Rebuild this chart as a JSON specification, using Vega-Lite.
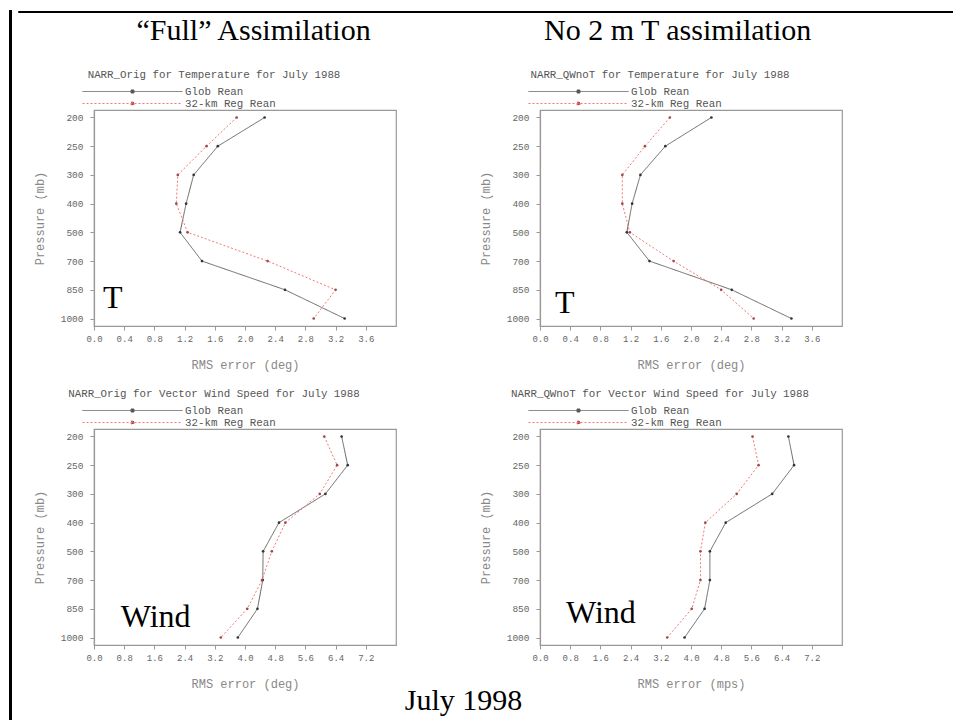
{
  "$schema": "https://vega.github.io/schema/vega-lite/v6.json",
  "padding": {"left": 6, "top": 8, "right": 0, "bottom": 0},
  "background": "white",
  "datasets": {
    "rows": [
      {"panel": "TF", "series": "Glob Rean", "p": "200", "v": 2.26},
      {"panel": "TF", "series": "Glob Rean", "p": "250", "v": 1.64},
      {"panel": "TF", "series": "Glob Rean", "p": "300", "v": 1.32},
      {"panel": "TF", "series": "Glob Rean", "p": "400", "v": 1.22},
      {"panel": "TF", "series": "Glob Rean", "p": "500", "v": 1.14},
      {"panel": "TF", "series": "Glob Rean", "p": "700", "v": 1.43},
      {"panel": "TF", "series": "Glob Rean", "p": "850", "v": 2.53},
      {"panel": "TF", "series": "Glob Rean", "p": "1000", "v": 3.32},
      {"panel": "TF", "series": "32-km Reg Rean", "p": "200", "v": 1.89},
      {"panel": "TF", "series": "32-km Reg Rean", "p": "250", "v": 1.49},
      {"panel": "TF", "series": "32-km Reg Rean", "p": "300", "v": 1.11},
      {"panel": "TF", "series": "32-km Reg Rean", "p": "400", "v": 1.09},
      {"panel": "TF", "series": "32-km Reg Rean", "p": "500", "v": 1.24},
      {"panel": "TF", "series": "32-km Reg Rean", "p": "700", "v": 2.30},
      {"panel": "TF", "series": "32-km Reg Rean", "p": "850", "v": 3.20},
      {"panel": "TF", "series": "32-km Reg Rean", "p": "1000", "v": 2.91},
      {"panel": "TN", "series": "Glob Rean", "p": "200", "v": 2.27},
      {"panel": "TN", "series": "Glob Rean", "p": "250", "v": 1.66},
      {"panel": "TN", "series": "Glob Rean", "p": "300", "v": 1.33},
      {"panel": "TN", "series": "Glob Rean", "p": "400", "v": 1.22},
      {"panel": "TN", "series": "Glob Rean", "p": "500", "v": 1.15},
      {"panel": "TN", "series": "Glob Rean", "p": "700", "v": 1.45},
      {"panel": "TN", "series": "Glob Rean", "p": "850", "v": 2.54},
      {"panel": "TN", "series": "Glob Rean", "p": "1000", "v": 3.33},
      {"panel": "TN", "series": "32-km Reg Rean", "p": "200", "v": 1.72},
      {"panel": "TN", "series": "32-km Reg Rean", "p": "250", "v": 1.39},
      {"panel": "TN", "series": "32-km Reg Rean", "p": "300", "v": 1.09},
      {"panel": "TN", "series": "32-km Reg Rean", "p": "400", "v": 1.09},
      {"panel": "TN", "series": "32-km Reg Rean", "p": "500", "v": 1.19},
      {"panel": "TN", "series": "32-km Reg Rean", "p": "700", "v": 1.77},
      {"panel": "TN", "series": "32-km Reg Rean", "p": "850", "v": 2.40},
      {"panel": "TN", "series": "32-km Reg Rean", "p": "1000", "v": 2.83},
      {"panel": "WF", "series": "Glob Rean", "p": "200", "v": 6.56},
      {"panel": "WF", "series": "Glob Rean", "p": "250", "v": 6.72},
      {"panel": "WF", "series": "Glob Rean", "p": "300", "v": 6.13},
      {"panel": "WF", "series": "Glob Rean", "p": "400", "v": 4.90},
      {"panel": "WF", "series": "Glob Rean", "p": "500", "v": 4.48},
      {"panel": "WF", "series": "Glob Rean", "p": "700", "v": 4.47},
      {"panel": "WF", "series": "Glob Rean", "p": "850", "v": 4.33},
      {"panel": "WF", "series": "Glob Rean", "p": "1000", "v": 3.81},
      {"panel": "WF", "series": "32-km Reg Rean", "p": "200", "v": 6.10},
      {"panel": "WF", "series": "32-km Reg Rean", "p": "250", "v": 6.44},
      {"panel": "WF", "series": "32-km Reg Rean", "p": "300", "v": 5.98},
      {"panel": "WF", "series": "32-km Reg Rean", "p": "400", "v": 5.07},
      {"panel": "WF", "series": "32-km Reg Rean", "p": "500", "v": 4.71},
      {"panel": "WF", "series": "32-km Reg Rean", "p": "700", "v": 4.45},
      {"panel": "WF", "series": "32-km Reg Rean", "p": "850", "v": 4.06},
      {"panel": "WF", "series": "32-km Reg Rean", "p": "1000", "v": 3.36},
      {"panel": "WN", "series": "Glob Rean", "p": "200", "v": 6.58},
      {"panel": "WN", "series": "Glob Rean", "p": "250", "v": 6.73},
      {"panel": "WN", "series": "Glob Rean", "p": "300", "v": 6.15},
      {"panel": "WN", "series": "Glob Rean", "p": "400", "v": 4.92},
      {"panel": "WN", "series": "Glob Rean", "p": "500", "v": 4.50},
      {"panel": "WN", "series": "Glob Rean", "p": "700", "v": 4.50},
      {"panel": "WN", "series": "Glob Rean", "p": "850", "v": 4.36},
      {"panel": "WN", "series": "Glob Rean", "p": "1000", "v": 3.83},
      {"panel": "WN", "series": "32-km Reg Rean", "p": "200", "v": 5.63},
      {"panel": "WN", "series": "32-km Reg Rean", "p": "250", "v": 5.79},
      {"panel": "WN", "series": "32-km Reg Rean", "p": "300", "v": 5.21},
      {"panel": "WN", "series": "32-km Reg Rean", "p": "400", "v": 4.38},
      {"panel": "WN", "series": "32-km Reg Rean", "p": "500", "v": 4.25},
      {"panel": "WN", "series": "32-km Reg Rean", "p": "700", "v": 4.25},
      {"panel": "WN", "series": "32-km Reg Rean", "p": "850", "v": 4.02},
      {"panel": "WN", "series": "32-km Reg Rean", "p": "1000", "v": 3.37}
    ]
  },
  "spacing": 0,
  "resolve": {"scale": {"x": "independent", "y": "independent", "color": "independent", "fill": "independent", "strokeDash": "independent"}, "legend": {"color": "independent", "strokeDash": "independent", "fill": "independent"}},
  "hconcat": [
    {"width": 1, "height": 716, "view": {"stroke": "black", "strokeWidth": 2}, "data": {"values": [{}]}, "mark": {"type": "point", "opacity": 0}, "encoding": {}},
    {
      "spacing": 0,
      "resolve": {"scale": {"x": "independent", "y": "independent", "color": "independent", "fill": "independent", "strokeDash": "independent"}, "legend": {"color": "independent", "strokeDash": "independent", "fill": "independent"}},
      "vconcat": [
        {"width": 950, "height": 1, "view": {"stroke": "black", "strokeWidth": 1}, "data": {"values": [{}]}, "mark": {"type": "point", "opacity": 0}, "encoding": {}},
        {
          "spacing": 10,
          "resolve": {"scale": {"x": "independent", "y": "independent", "color": "independent", "fill": "independent", "strokeDash": "independent"}, "legend": {"color": "independent", "strokeDash": "independent", "fill": "independent"}},
          "hconcat": [
            {"width": 1, "height": 1, "view": {"stroke": null}, "data": {"values": [{}]}, "mark": {"type": "point", "opacity": 0}, "encoding": {}},
            {
              "title": {"text": "July 1998", "orient": "bottom", "font": "Liberation Serif", "fontSize": 30, "fontWeight": "normal", "color": "black", "anchor": "middle", "dx": 26, "offset": -4},
              "spacing": 81,
              "resolve": {"scale": {"x": "independent", "y": "independent", "color": "independent", "fill": "independent", "strokeDash": "independent"}, "legend": {"color": "independent", "strokeDash": "independent", "fill": "independent"}},
              "hconcat": [
                {
                  "title": {"text": "“Full” Assimilation", "font": "Liberation Serif", "fontSize": 30, "fontWeight": "normal", "color": "black", "anchor": "middle", "dx": 39, "dy": -2, "offset": 21},
                  "spacing": 16,
                  "resolve": {"scale": {"x": "independent", "y": "independent", "color": "independent", "fill": "independent", "strokeDash": "independent"}, "legend": {"color": "independent", "strokeDash": "independent", "fill": "independent"}},
                  "vconcat": [
                    {
                      "width": 302, "height": 216,
                      "title": {"text": "NARR_Orig for Temperature for July 1988", "frame": "group", "anchor": "middle", "dx": -31, "offset": 6, "font": "Liberation Mono", "fontSize": 10.8, "fontWeight": "normal", "color": "#555"},
                      "data": {"name": "rows"},
                      "transform": [{"filter": "datum.panel === 'TF'"}],
                      "layer": [
                        {"mark": {"type": "line", "strokeWidth": 1},
                         "encoding": {
                           "x": {"field": "v", "type": "quantitative", "scale": {"domain": [0, 4], "nice": false, "zero": false}, "axis": {"title": "RMS error (deg)", "values": [0, 0.4, 0.8, 1.2, 1.6, 2.0, 2.4, 2.8, 3.2, 3.6], "tickCount": 12, "format": ".1f", "labelOverlap": false}},
                           "y": {"field": "p", "type": "ordinal", "scale": {"type": "point", "padding": 0.26, "domain": ["200", "250", "300", "400", "500", "700", "850", "1000"]}, "axis": {"title": "Pressure (mb)"}},
                           "color": {"field": "series", "type": "nominal", "scale": {"domain": ["Glob Rean", "32-km Reg Rean"], "range": ["#666666", "#f07878"]}, "legend": {"orient": "none", "legendX": -12, "legendY": -24, "direction": "vertical", "title": null}},
                           "strokeDash": {"field": "series", "type": "nominal", "scale": {"domain": ["Glob Rean", "32-km Reg Rean"], "range": [[1, 0], [2, 2]]}, "legend": {"orient": "none", "legendX": -12, "legendY": -24, "direction": "vertical", "title": null}},
                           "order": {"value": null}
                         }},
                        {"mark": {"type": "point", "filled": true, "size": 7, "opacity": 1},
                         "encoding": {
                           "x": {"field": "v", "type": "quantitative"},
                           "y": {"field": "p", "type": "ordinal"},
                           "fill": {"field": "series", "type": "nominal", "scale": {"domain": ["Glob Rean", "32-km Reg Rean"], "range": ["#333333", "#a04848"]}, "legend": null}
                         }},
                        {"data": {"values": [{"t": "T"}]},
                         "mark": {"type": "text", "font": "Liberation Serif", "fontSize": 32, "align": "left", "baseline": "alphabetic", "dy": -11, "color": "black"},
                         "encoding": {"x": {"datum": 0.12}, "y": {"datum": "1000"}, "text": {"field": "t"}}}
                      ]
                    },
                    {
                      "width": 302, "height": 216,
                      "title": {"text": "NARR_Orig for Vector Wind Speed for July 1988", "frame": "group", "anchor": "middle", "dx": -31, "offset": 6, "font": "Liberation Mono", "fontSize": 10.8, "fontWeight": "normal", "color": "#555"},
                      "data": {"name": "rows"},
                      "transform": [{"filter": "datum.panel === 'WF'"}],
                      "layer": [
                        {"mark": {"type": "line", "strokeWidth": 1},
                         "encoding": {
                           "x": {"field": "v", "type": "quantitative", "scale": {"domain": [0, 8], "nice": false, "zero": false}, "axis": {"title": "RMS error (deg)", "values": [0, 0.8, 1.6, 2.4, 3.2, 4.0, 4.8, 5.6, 6.4, 7.2], "tickCount": 12, "format": ".1f", "labelOverlap": false}},
                           "y": {"field": "p", "type": "ordinal", "scale": {"type": "point", "padding": 0.26, "domain": ["200", "250", "300", "400", "500", "700", "850", "1000"]}, "axis": {"title": "Pressure (mb)"}},
                           "color": {"field": "series", "type": "nominal", "scale": {"domain": ["Glob Rean", "32-km Reg Rean"], "range": ["#666666", "#f07878"]}, "legend": {"orient": "none", "legendX": -12, "legendY": -24, "direction": "vertical", "title": null}},
                           "strokeDash": {"field": "series", "type": "nominal", "scale": {"domain": ["Glob Rean", "32-km Reg Rean"], "range": [[1, 0], [2, 2]]}, "legend": {"orient": "none", "legendX": -12, "legendY": -24, "direction": "vertical", "title": null}},
                           "order": {"value": null}
                         }},
                        {"mark": {"type": "point", "filled": true, "size": 7, "opacity": 1},
                         "encoding": {
                           "x": {"field": "v", "type": "quantitative"},
                           "y": {"field": "p", "type": "ordinal"},
                           "fill": {"field": "series", "type": "nominal", "scale": {"domain": ["Glob Rean", "32-km Reg Rean"], "range": ["#333333", "#a04848"]}, "legend": null}
                         }},
                        {"data": {"values": [{"t": "Wind"}]},
                         "mark": {"type": "text", "font": "Liberation Serif", "fontSize": 32, "align": "left", "baseline": "alphabetic", "dy": -11, "color": "black"},
                         "encoding": {"x": {"datum": 0.71}, "y": {"datum": "1000"}, "text": {"field": "t"}}}
                      ]
                    }
                  ]
                },
                {
                  "title": {"text": "No 2 m T assimilation", "font": "Liberation Serif", "fontSize": 30, "fontWeight": "normal", "color": "black", "anchor": "middle", "dx": 17, "dy": -2, "offset": 21},
                  "spacing": 16,
                  "resolve": {"scale": {"x": "independent", "y": "independent", "color": "independent", "fill": "independent", "strokeDash": "independent"}, "legend": {"color": "independent", "strokeDash": "independent", "fill": "independent"}},
                  "vconcat": [
                    {
                      "width": 302, "height": 216,
                      "title": {"text": "NARR_QWnoT for Temperature for July 1988", "frame": "group", "anchor": "middle", "dx": -31, "offset": 6, "font": "Liberation Mono", "fontSize": 10.8, "fontWeight": "normal", "color": "#555"},
                      "data": {"name": "rows"},
                      "transform": [{"filter": "datum.panel === 'TN'"}],
                      "layer": [
                        {"mark": {"type": "line", "strokeWidth": 1},
                         "encoding": {
                           "x": {"field": "v", "type": "quantitative", "scale": {"domain": [0, 4], "nice": false, "zero": false}, "axis": {"title": "RMS error (deg)", "values": [0, 0.4, 0.8, 1.2, 1.6, 2.0, 2.4, 2.8, 3.2, 3.6], "tickCount": 12, "format": ".1f", "labelOverlap": false}},
                           "y": {"field": "p", "type": "ordinal", "scale": {"type": "point", "padding": 0.26, "domain": ["200", "250", "300", "400", "500", "700", "850", "1000"]}, "axis": {"title": "Pressure (mb)"}},
                           "color": {"field": "series", "type": "nominal", "scale": {"domain": ["Glob Rean", "32-km Reg Rean"], "range": ["#666666", "#f07878"]}, "legend": {"orient": "none", "legendX": -12, "legendY": -24, "direction": "vertical", "title": null}},
                           "strokeDash": {"field": "series", "type": "nominal", "scale": {"domain": ["Glob Rean", "32-km Reg Rean"], "range": [[1, 0], [2, 2]]}, "legend": {"orient": "none", "legendX": -12, "legendY": -24, "direction": "vertical", "title": null}},
                           "order": {"value": null}
                         }},
                        {"mark": {"type": "point", "filled": true, "size": 7, "opacity": 1},
                         "encoding": {
                           "x": {"field": "v", "type": "quantitative"},
                           "y": {"field": "p", "type": "ordinal"},
                           "fill": {"field": "series", "type": "nominal", "scale": {"domain": ["Glob Rean", "32-km Reg Rean"], "range": ["#333333", "#a04848"]}, "legend": null}
                         }},
                        {"data": {"values": [{"t": "T"}]},
                         "mark": {"type": "text", "font": "Liberation Serif", "fontSize": 32, "align": "left", "baseline": "alphabetic", "dy": -6, "color": "black"},
                         "encoding": {"x": {"datum": 0.2}, "y": {"datum": "1000"}, "text": {"field": "t"}}}
                      ]
                    },
                    {
                      "width": 302, "height": 216,
                      "title": {"text": "NARR_QWnoT for Vector Wind Speed for July 1988", "frame": "group", "anchor": "middle", "dx": -31, "offset": 6, "font": "Liberation Mono", "fontSize": 10.8, "fontWeight": "normal", "color": "#555"},
                      "data": {"name": "rows"},
                      "transform": [{"filter": "datum.panel === 'WN'"}],
                      "layer": [
                        {"mark": {"type": "line", "strokeWidth": 1},
                         "encoding": {
                           "x": {"field": "v", "type": "quantitative", "scale": {"domain": [0, 8], "nice": false, "zero": false}, "axis": {"title": "RMS error (mps)", "values": [0, 0.8, 1.6, 2.4, 3.2, 4.0, 4.8, 5.6, 6.4, 7.2], "tickCount": 12, "format": ".1f", "labelOverlap": false}},
                           "y": {"field": "p", "type": "ordinal", "scale": {"type": "point", "padding": 0.26, "domain": ["200", "250", "300", "400", "500", "700", "850", "1000"]}, "axis": {"title": "Pressure (mb)"}},
                           "color": {"field": "series", "type": "nominal", "scale": {"domain": ["Glob Rean", "32-km Reg Rean"], "range": ["#666666", "#f07878"]}, "legend": {"orient": "none", "legendX": -12, "legendY": -24, "direction": "vertical", "title": null}},
                           "strokeDash": {"field": "series", "type": "nominal", "scale": {"domain": ["Glob Rean", "32-km Reg Rean"], "range": [[1, 0], [2, 2]]}, "legend": {"orient": "none", "legendX": -12, "legendY": -24, "direction": "vertical", "title": null}},
                           "order": {"value": null}
                         }},
                        {"mark": {"type": "point", "filled": true, "size": 7, "opacity": 1},
                         "encoding": {
                           "x": {"field": "v", "type": "quantitative"},
                           "y": {"field": "p", "type": "ordinal"},
                           "fill": {"field": "series", "type": "nominal", "scale": {"domain": ["Glob Rean", "32-km Reg Rean"], "range": ["#333333", "#a04848"]}, "legend": null}
                         }},
                        {"data": {"values": [{"t": "Wind"}]},
                         "mark": {"type": "text", "font": "Liberation Serif", "fontSize": 32, "align": "left", "baseline": "alphabetic", "dy": -15, "color": "black"},
                         "encoding": {"x": {"datum": 0.69}, "y": {"datum": "1000"}, "text": {"field": "t"}}}
                      ]
                    }
                  ]
                }
              ]
            }
          ]
        }
      ]
    }
  ],
  "config": {
    "view": {"stroke": "#999999", "strokeWidth": 1.2},
    "axis": {"grid": false, "labelFont": "Liberation Mono", "labelColor": "#666666", "domainColor": "#999999", "domainWidth": 1.2, "tickColor": "#999999", "tickSize": 4, "titleFont": "Liberation Mono", "titleFontWeight": "normal", "titleColor": "#888888", "titleFontSize": 12, "labelOverlap": false},
    "axisX": {"labelFontSize": 9, "titlePadding": 16, "labelAngle": 0, "labelFlush": false, "labelPadding": 4},
    "axisY": {"labelFontSize": 9.5, "titlePadding": 14, "labelPadding": 7},
    "legend": {"symbolType": "M-1,0H19M8.7,-0.3H9.3V0.3H8.7Z", "symbolSize": 100, "symbolStrokeWidth": 1, "labelFont": "Liberation Mono", "labelFontSize": 10.8, "labelColor": "#555555", "labelOffset": 92, "rowPadding": 0, "padding": 0}
  }
}
